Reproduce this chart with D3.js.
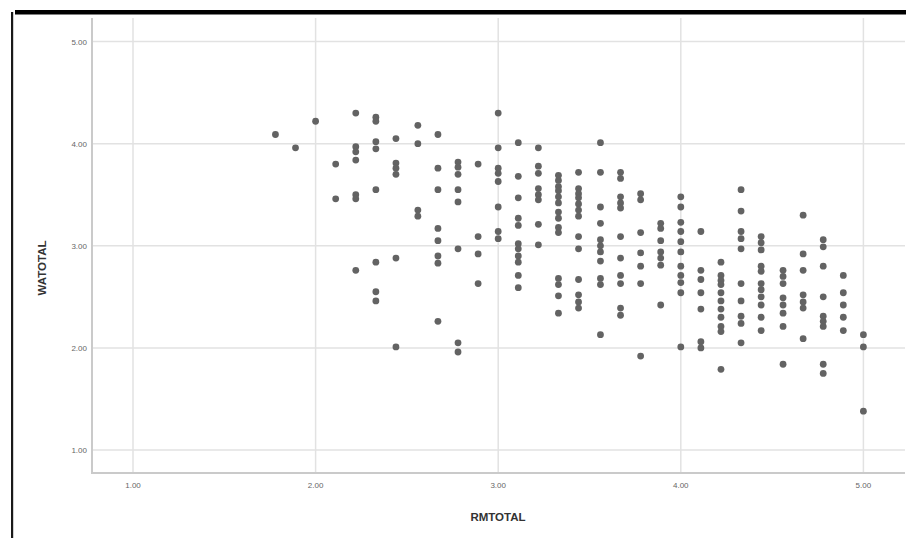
<!DOCTYPE html>
<html>
<head>
<meta charset="utf-8">
<script src="https://cdn.jsdelivr.net/npm/d3@7"></script>
<style>
  body { margin: 0; background: #fff; }
  svg { display: block; font-family: "Liberation Sans", Arial, sans-serif; }
</style>
</head>
<body>
<svg id="chart" width="906" height="538"></svg>
<script>
// RMTOTAL levels (columns) and the WATOTAL values found in each column
var rmLevels = [1.78, 1.89, 2.00, 2.11, 2.22, 2.33, 2.44, 2.56, 2.67, 2.78, 2.89, 3.00,
                3.11, 3.22, 3.33, 3.44, 3.56, 3.67, 3.78, 3.89, 4.00,
                4.11, 4.22, 4.33, 4.44, 4.56, 4.67, 4.78, 4.89, 5.00];
var waByLevel = [
  [4.09],
  [3.96],
  [4.22],
  [3.80, 3.46],
  [4.30, 3.97, 3.92, 3.84, 3.50, 3.46, 2.76],
  [4.26, 4.22, 4.02, 3.95, 3.55, 2.84, 2.55, 2.46],
  [4.05, 3.81, 3.76, 3.70, 2.88, 2.01],
  [4.18, 4.00, 3.35, 3.29],
  [4.09, 3.76, 3.55, 3.17, 3.05, 2.90, 2.83, 2.26],
  [3.82, 3.77, 3.70, 3.55, 3.43, 2.97, 2.05, 1.96],
  [3.80, 3.09, 2.92, 2.63],
  [4.30, 3.96, 3.76, 3.71, 3.63, 3.38, 3.14, 3.07],
  [4.01, 3.68, 3.47, 3.27, 3.20, 3.02, 2.97, 2.90, 2.84, 2.71, 2.59],
  [3.96, 3.78, 3.71, 3.56, 3.50, 3.45, 3.21, 3.01],
  [3.69, 3.64, 3.58, 3.54, 3.48, 3.42, 3.33, 3.27, 3.18, 3.13, 2.68, 2.62, 2.51, 2.34],
  [3.72, 3.56, 3.51, 3.47, 3.41, 3.35, 3.29, 3.09, 2.97, 2.67, 2.52, 2.45, 2.39],
  [4.01, 3.72, 3.38, 3.22, 3.06, 3.00, 2.94, 2.85, 2.68, 2.62, 2.13],
  [3.72, 3.66, 3.48, 3.42, 3.37, 3.09, 2.88, 2.71, 2.63, 2.39, 2.32],
  [3.51, 3.45, 3.13, 2.93, 2.80, 2.63, 1.92],
  [3.22, 3.17, 3.05, 2.94, 2.88, 2.81, 2.42],
  [3.48, 3.38, 3.23, 3.14, 3.04, 2.94, 2.80, 2.71, 2.64, 2.54, 2.01],
  [3.14, 2.76, 2.67, 2.54, 2.38, 2.06, 2.00],
  [2.84, 2.71, 2.66, 2.62, 2.54, 2.46, 2.38, 2.30, 2.21, 2.16, 1.79],
  [3.55, 3.34, 3.14, 3.07, 2.97, 2.63, 2.46, 2.31, 2.24, 2.05],
  [3.09, 3.03, 2.96, 2.80, 2.75, 2.63, 2.57, 2.50, 2.42, 2.30, 2.17],
  [2.76, 2.70, 2.63, 2.49, 2.42, 2.34, 2.21, 1.84],
  [3.30, 2.92, 2.76, 2.52, 2.45, 2.39, 2.09],
  [3.06, 2.99, 2.80, 2.50, 2.31, 2.26, 2.21, 1.84, 1.75],
  [2.71, 2.54, 2.42, 2.30, 2.17],
  [2.13, 2.01, 1.38]
];
var tickValues = [1, 2, 3, 4, 5];

var points = [];
rmLevels.forEach(function(rm, i) {
  waByLevel[i].forEach(function(wa) { points.push({ rm: rm, wa: wa }); });
});

var svg = d3.select("#chart");
var plotLeft = 92, plotRight = 905, plotTop = 18, plotBottom = 473;

var x = d3.scaleLinear().domain([1, 5]).range([133, 863.4]);
var y = d3.scaleLinear().domain([1, 5]).range([450, 41.6]);

// outer frame pieces (top bar + left line)
svg.append("rect").attr("x", 15).attr("y", 10).attr("width", 891).attr("height", 4.5).attr("fill", "#000");
svg.append("rect").attr("x", 11).attr("y", 12).attr("width", 2.2).attr("height", 526).attr("fill", "#1a1a1a");

// gridlines
svg.append("g").selectAll("line").data(tickValues).enter().append("line")
  .attr("x1", plotLeft).attr("x2", plotRight)
  .attr("y1", function(d) { return y(d); }).attr("y2", function(d) { return y(d); })
  .attr("stroke", "#e2e2e2").attr("stroke-width", 1.5);
svg.append("g").selectAll("line").data(tickValues).enter().append("line")
  .attr("y1", plotTop).attr("y2", plotBottom)
  .attr("x1", function(d) { return x(d); }).attr("x2", function(d) { return x(d); })
  .attr("stroke", "#e2e2e2").attr("stroke-width", 1.5);

// axes lines
svg.append("line").attr("x1", plotLeft).attr("x2", plotLeft).attr("y1", plotTop).attr("y2", plotBottom + 1)
  .attr("stroke", "#cacaca").attr("stroke-width", 2);
svg.append("line").attr("x1", plotLeft).attr("x2", plotRight).attr("y1", plotBottom).attr("y2", plotBottom)
  .attr("stroke", "#cacaca").attr("stroke-width", 2);

// tick labels
svg.append("g").selectAll("text").data(tickValues).enter().append("text")
  .attr("x", 87).attr("y", function(d) { return y(d) + 3; })
  .attr("text-anchor", "end").attr("font-size", 8).attr("fill", "#666")
  .text(function(d) { return d3.format(".2f")(d); });
svg.append("g").selectAll("text").data(tickValues).enter().append("text")
  .attr("x", function(d) { return x(d); }).attr("y", 488)
  .attr("text-anchor", "middle").attr("font-size", 8).attr("fill", "#666")
  .text(function(d) { return d3.format(".2f")(d); });

// axis titles
svg.append("text").attr("x", 498).attr("y", 521).attr("text-anchor", "middle")
  .attr("font-size", 11.5).attr("font-weight", "bold").attr("fill", "#333").text("RMTOTAL");
svg.append("text").attr("transform", "translate(46,268) rotate(-90)").attr("text-anchor", "middle")
  .attr("font-size", 11.5).attr("font-weight", "bold").attr("fill", "#333").text("WATOTAL");

// points
svg.append("g").selectAll("circle").data(points).enter().append("circle")
  .attr("cx", function(d) { return x(d.rm); })
  .attr("cy", function(d) { return y(d.wa); })
  .attr("r", 3.4)
  .attr("fill", "#636363");
</script>
</body>
</html>
